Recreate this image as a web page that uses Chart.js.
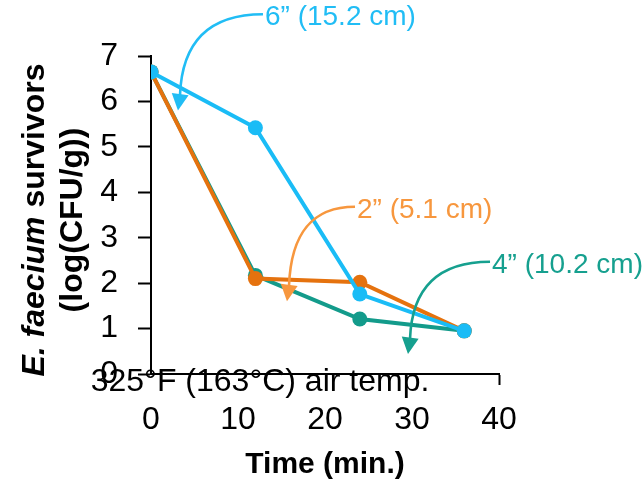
<!DOCTYPE html>
<html>
<head>
<meta charset="utf-8">
<script src="https://cdn.jsdelivr.net/npm/chart.js@4"></script>
<style>
  html, body { margin:0; padding:0; background:#fff; }
  #c { display:block; }
</style>
</head>
<body>
<canvas id="c" width="643" height="486"></canvas>
<script>
const FONT = "'Liberation Sans', Arial, sans-serif";

// time (min.)
const times = [0, 12, 24, 36];
// log(CFU/g) survivors per depth
const surv6in = [6.65, 5.42, 1.76, 0.95];
const surv2in = [6.65, 2.10, 2.02, 0.95];
const surv4in = [6.65, 2.17, 1.21, 0.95];

const seriesNames = ['6\u201d (15.2 cm)', '2\u201d (5.1 cm)', '4\u201d (10.2 cm)'];
const lineColors = ['#1ABCF6', '#E5720E', '#139B8B'];
const noteColors = ['#21BDF5', '#F7973E', '#16A08F'];

// callout label anchors and arrow tips, in data units [x, y]
const noteAnchors = [[12.87, 7.92], [23.45, 3.68], [38.97, 2.47]];
const noteTips = [[3.1, 5.8], [15.63, 1.6], [29.54, 0.44]];

const caption = '325\u00b0F (163\u00b0C) air temp.';
const captionAt = [12.53, -0.18];

function pts(ys){ return times.map((t, i) => ({ x: t, y: ys[i] })); }

function lineSet(label, ys, color){
  return {
    label,
    data: pts(ys),
    borderColor: color,
    backgroundColor: color,
    pointBackgroundColor: color,
    pointBorderWidth: 0,
    pointRadius: 7.5,
    borderWidth: 4,
    tension: 0,
  };
}

function drawArrow(ctx, sx, sy, tx, ty, color){
  const ex = tx + 2, ey = ty - 15;
  const dx = sx - tx;
  ctx.save();
  ctx.strokeStyle = color;
  ctx.fillStyle = color;
  ctx.lineWidth = 2.6;
  ctx.beginPath();
  ctx.moveTo(sx, sy);
  ctx.bezierCurveTo(sx - dx*0.6, sy, ex + 2, sy + (ey - sy)*0.3, ex, ey);
  ctx.stroke();
  // head
  const ux = tx - ex, uy = ty - ey;
  const len = Math.hypot(ux, uy);
  const nx = -uy/len, ny = ux/len;
  const bx = ex - ux/len*1.5, by = ey - uy/len*1.5;
  ctx.beginPath();
  ctx.moveTo(tx, ty);
  ctx.lineTo(bx + nx*8.5, by + ny*8.5);
  ctx.lineTo(bx - nx*8.5, by - ny*8.5);
  ctx.closePath();
  ctx.fill();
  ctx.restore();
}

function drawRich(ctx, parts, x, y){
  let total = 0;
  parts.forEach(p => { ctx.font = p[1]; total += ctx.measureText(p[0]).width; });
  let cx = x - total/2;
  parts.forEach(p => {
    ctx.font = p[1];
    ctx.fillText(p[0], cx, y);
    cx += ctx.measureText(p[0]).width;
  });
}

const extras = {
  id: 'extras',
  afterDraw(chart){
    const { ctx, scales:{ x, y } } = chart;
    ctx.save();
    // callouts
    noteAnchors.forEach((a, i) => {
      const sx = x.getPixelForValue(a[0]), sy = y.getPixelForValue(a[1]);
      const tx = x.getPixelForValue(noteTips[i][0]), ty = y.getPixelForValue(noteTips[i][1]);
      drawArrow(ctx, sx, sy, tx, ty, noteColors[i]);
      ctx.fillStyle = noteColors[i];
      ctx.font = `28px ${FONT}`;
      ctx.textAlign = 'left';
      ctx.textBaseline = 'middle';
      ctx.fillText(seriesNames[i], sx + 2, sy + 3);
    });
    // caption
    ctx.fillStyle = '#000';
    ctx.font = `32px ${FONT}`;
    ctx.textAlign = 'center';
    ctx.textBaseline = 'middle';
    ctx.fillText(caption, x.getPixelForValue(captionAt[0]), y.getPixelForValue(captionAt[1]));
    // x title
    ctx.font = `bold 30px ${FONT}`;
    ctx.textBaseline = 'alphabetic';
    ctx.fillText('Time (min.)', (chart.chartArea.left + chart.chartArea.right)/2, 473);
    // y title
    ctx.textAlign = 'left';
    const cy = (chart.chartArea.top + chart.chartArea.bottom)/2 + 5;
    ctx.save();
    ctx.translate(44, cy);
    ctx.rotate(-Math.PI/2);
    drawRich(ctx, [['E. faecium', `italic bold 32px ${FONT}`], [' survivors', `bold 32px ${FONT}`]], 0, 0);
    ctx.restore();
    ctx.save();
    ctx.translate(82, cy);
    ctx.rotate(-Math.PI/2);
    drawRich(ctx, [['(log(CFU/g))', `bold 32px ${FONT}`]], 0, 0);
    ctx.restore();
    ctx.restore();
  }
};

new Chart(document.getElementById('c'), {
  type: 'line',
  data: {
    datasets: [
      lineSet(seriesNames[0], surv6in, lineColors[0]),
      lineSet(seriesNames[1], surv2in, lineColors[1]),
      lineSet(seriesNames[2], surv4in, lineColors[2]),
    ],
  },
  options: {
    responsive: false,
    animation: false,
    layout: { padding: { top: 56, right: 144, left: 0, bottom: 0 } },
    plugins: { legend: { display: false }, tooltip: { enabled: false } },
    scales: {
      x: {
        type: 'linear',
        min: 0, max: 40,
        afterFit: (s) => { s.height = 112; },
        grid: {
          drawOnChartArea: false,
          drawTicks: true,
          tickLength: 11,
          tickWidth: 2,
          tickColor: (c) => c.tick && c.tick.value === 40 ? '#000' : 'rgba(0,0,0,0)',
        },
        border: { display: true, color: '#000', width: 2 },
        ticks: { stepSize: 10, color: '#000', padding: 16, font: { family: FONT, size: 32 }, maxRotation: 0 },
      },
      y: {
        min: 0, max: 7,
        afterFit: (s) => { s.width = 151; },
        grid: { drawOnChartArea: false, drawTicks: true, tickLength: 13, tickWidth: 2, tickColor: '#000' },
        border: { display: true, color: '#000', width: 2 },
        ticks: { stepSize: 1, color: '#000', padding: 20, font: { family: FONT, size: 32 } },
      },
    },
  },
  plugins: [extras],
});
</script>
</body>
</html>
